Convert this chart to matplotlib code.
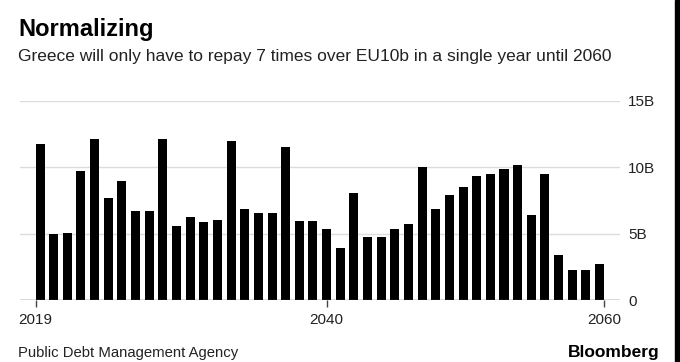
import matplotlib.pyplot as plt
import matplotlib as mpl
from matplotlib.patches import Rectangle

mpl.rcParams['font.family'] = ['Liberation Sans', 'DejaVu Sans']

# Greece debt repayments per year, in billions of euro
years = list(range(2019, 2061))
repay_bn = [11.75, 4.95, 5.05, 9.7, 12.1, 7.7, 8.98, 6.68, 6.68, 12.1,
            5.6, 6.28, 5.9, 6.05, 12.0, 6.85, 6.53, 6.53, 11.5, 5.98,
            5.98, 5.35, 3.95, 8.08, 4.75, 4.75, 5.35, 5.75, 10.0, 6.85,
            7.93, 8.48, 9.33, 9.48, 9.88, 10.18, 6.43, 9.48, 3.4, 2.23,
            2.23, 2.73]
y_ticks = [0, 5, 10, 15]
y_labels = ['0', '5B', '10B', '15B']
x_labels = ['2019', '2040', '2060']

title = 'Normalizing'
subtitle = 'Greece will only have to repay 7 times over EU10b in a single year until 2060'
source = 'Public Debt Management Agency'

fig = plt.figure(figsize=(6.8, 3.62), dpi=100)
ax = fig.add_axes([20 / 680, 62 / 362, 600 / 680, 199 / 362])

bar_w = 0.66
ax.bar(years, repay_bn, width=bar_w, color='black', zorder=3)

ax.set_xlim(years[0] - 1.466, years[-1] + 1.5)
ax.set_ylim(0, 15)

# gridlines
for v in y_ticks[1:]:
    ax.axhline(v, color='#dcdcdc', lw=1, zorder=1)
ax.axhline(0, color='#444444', lw=1, zorder=4)

for s in ax.spines.values():
    s.set_visible(False)

ax.yaxis.tick_right()
ax.set_yticks(y_ticks)
ax.set_yticklabels(y_labels)
ax.tick_params(axis='y', length=0, pad=6, labelsize=11, labelcolor='#222222')

ax.set_xticks([years[0] - bar_w / 2, 2040, years[-1] + bar_w / 2])
ax.set_xticklabels(x_labels)
ax.tick_params(axis='x', length=5, width=1, color='#444444', pad=4,
               labelsize=11, labelcolor='#222222')

fig.text(18 / 680, 1 - 36 / 362, title, fontsize=17, fontweight='bold',
         ha='left', va='baseline')
fig.text(18 / 680, 1 - 61 / 362, subtitle, fontsize=12.5, color='#222222',
         ha='left', va='baseline')
fig.text(18 / 680, 1 - 357 / 362, source, fontsize=10.7, color='#222222',
         ha='left', va='baseline')
fig.text(660 / 680, 1 - 357 / 362, 'Bloomberg', fontsize=12.5, fontweight='bold',
         ha='right', va='baseline')

# dark edge on the right side of the screenshot
fig.patches.append(Rectangle((675 / 680, 0), 5 / 680, 1, transform=fig.transFigure,
                             color='black', zorder=0))

fig.savefig('out.png', dpi=100)
